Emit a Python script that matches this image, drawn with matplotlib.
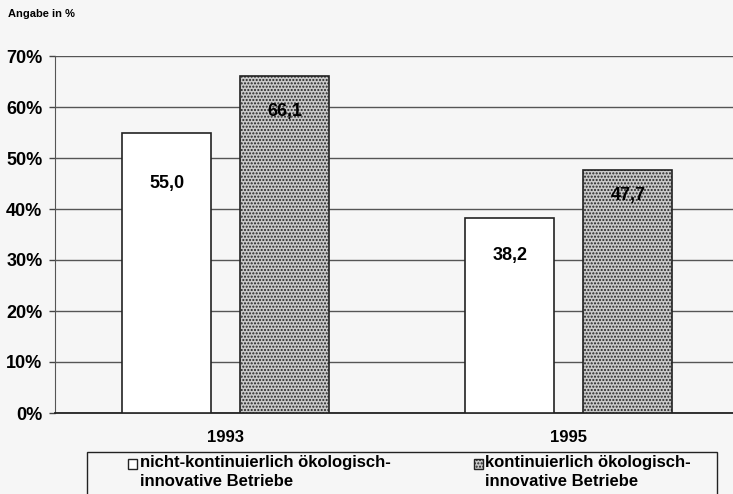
import matplotlib.pyplot as plt
from matplotlib.patches import Rectangle

# Anteil der Betriebe je Erhebungswelle
jahre = ['1993', '1995']
nicht_kontinuierlich = [55.0, 38.2]
kontinuierlich = [66.1, 47.7]
beschriftung_nicht = ['55,0', '38,2']
beschriftung_kont = ['66,1', '47,7']
y_ticks = [0, 10, 20, 30, 40, 50, 60, 70]
y_labels = ['0%', '10%', '20%', '30%', '40%', '50%', '60%', '70%']
legende = ['nicht-kontinuierlich ökologisch-\ninnovative Betriebe',
           'kontinuierlich ökologisch-\ninnovative Betriebe']

schrift = ['Liberation Sans', 'DejaVu Sans']
schmal = ['Liberation Sans Narrow', 'Liberation Sans', 'DejaVu Sans']
papier = '#f6f6f6'
grau = '#c9c9c9'

plt.rcParams['hatch.linewidth'] = 1.0
plt.rcParams['hatch.color'] = '#7a7a7a'

W, H = 733, 494
fig = plt.figure(figsize=(W / 100, H / 100), dpi=100)
fig.patch.set_facecolor(papier)
ax = fig.add_axes([55 / W, 1 - 413 / H, 1 - 55 / W + 0.01, (413 - 56) / H])
ax.set_facecolor(papier)

x = range(len(jahre))
breite = 0.258
versatz = 0.172

ax.bar([i - versatz for i in x], nicht_kontinuierlich, width=breite,
       color='white', edgecolor='#222222', linewidth=1.2, zorder=3)
ax.bar([i + versatz for i in x], kontinuierlich, width=breite,
       color=grau, edgecolor='#222222', linewidth=1.2, hatch='.....', zorder=3)

# Werte in den Balken (Abstand unter der Oberkante je Balken)
abstand_nicht = [10.0, 7.4]
abstand_kont = [6.9, 5.1]
for i in x:
    ax.text(i - versatz, nicht_kontinuierlich[i] - abstand_nicht[i], beschriftung_nicht[i],
            ha='center', va='center', fontsize=13, fontweight='bold',
            family=schrift, zorder=4)
    ax.text(i + versatz, kontinuierlich[i] - abstand_kont[i], beschriftung_kont[i],
            ha='center', va='center', fontsize=13, fontweight='bold',
            family=schrift, zorder=4)

ax.set_xlim(-0.497, 1.50)
ax.set_ylim(0, 70)
ax.set_yticks(y_ticks)
ax.set_yticklabels(y_labels, fontsize=13, fontweight='bold', family=schrift)
ax.set_xticks(list(x))
ax.set_xticklabels(jahre, fontsize=12, fontweight='bold', family=schrift)
ax.tick_params(axis='x', length=0, pad=12)
ax.tick_params(axis='y', length=4, width=1, color='#444444', pad=5)
ax.yaxis.grid(True, color='#555555', linewidth=1.0, zorder=0)
ax.set_axisbelow(True)

for s in ['top', 'right']:
    ax.spines[s].set_visible(False)
ax.spines['left'].set_color('#555555')
ax.spines['bottom'].set_color('#222222')
ax.spines['bottom'].set_linewidth(1.3)

fig.text(8 / W, 1 - 14 / H, 'Angabe in %', fontsize=8, fontweight='bold',
         family=schrift, va='center')

# Legende unten, Rahmen läuft über den Rand hinaus
fig.add_artist(Rectangle((87 / W, -0.05), (717 - 87) / W, 0.05 + 1 - 452 / H,
                         transform=fig.transFigure, facecolor=papier,
                         edgecolor='#222222', linewidth=1.0))
for kasten_x, text_x, farbe, muster, text in [
        (128, 140, 'white', None, legende[0]),
        (474, 485, grau, '.....', legende[1])]:
    fig.add_artist(Rectangle((kasten_x / W, 1 - 469 / H), 9 / W, 10 / H,
                             transform=fig.transFigure, facecolor=farbe,
                             edgecolor='#222222', linewidth=1.0, hatch=muster))
    fig.text(text_x / W, 1 - 455 / H, text, fontsize=12, fontweight='bold',
             family=schmal, va='top', ha='left', linespacing=1.3)

fig.savefig('out.png', dpi=100, facecolor=fig.get_facecolor())
